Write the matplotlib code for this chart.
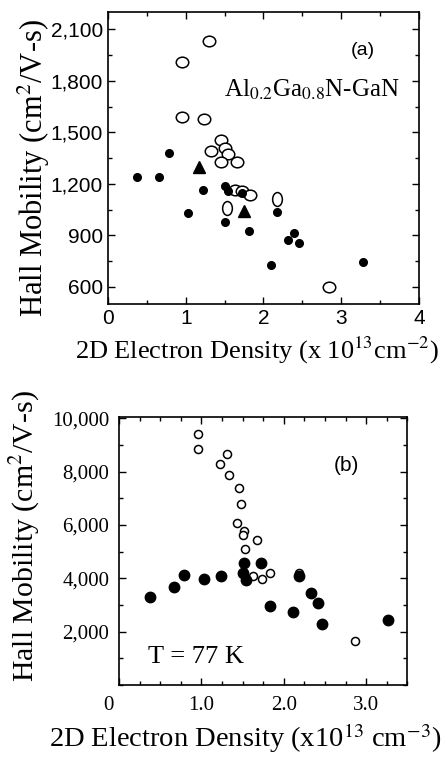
import matplotlib
matplotlib.use('Agg')
import matplotlib.pyplot as plt
from matplotlib.markers import MarkerStyle
from matplotlib.path import Path
from matplotlib.transforms import Affine2D, ScaledTranslation
from matplotlib.ticker import MultipleLocator, FixedLocator, FuncFormatter

plt.rcParams['mathtext.fontset'] = 'stix'

SERIF = 'Liberation Serif'
SANS = 'Liberation Sans'

# --- (a) room temperature, Al0.2Ga0.8N-GaN ---
a_open_x = [1.30, 0.95, 0.95, 1.23, 1.45, 1.33, 1.51, 1.54, 1.46, 1.66,
            1.63, 1.73, 1.83, 2.84]
a_open_y = [2030, 1910, 1590, 1575, 1455, 1393, 1410, 1373, 1325, 1329,
            1167, 1160, 1134, 600]
a_tall_x = [1.53, 2.17]
a_tall_y = [1057, 1109]
a_fill_x = [0.37, 0.66, 0.78, 1.22, 1.03, 1.51, 1.54, 1.51, 1.72, 1.81,
            2.17, 2.39, 2.31, 2.46, 2.10, 3.28]
a_fill_y = [1241, 1241, 1377, 1163, 1031, 1187, 1160, 979, 1144, 924,
            1035, 915, 872, 853, 730, 742]
a_tri_x = [1.17, 1.75]
a_tri_y = [1299, 1041]
a_yticks = [600, 900, 1200, 1500, 1800, 2100]
a_xticks = [0, 1, 2, 3, 4]

# --- (b) T = 77 K ---
b_open_x = [0.96, 0.96, 1.23, 1.31, 1.33, 1.45, 1.48, 1.43, 1.52, 1.50,
            1.67, 1.53, 1.63, 1.73, 1.83, 2.18, 2.86]
b_open_y = [9400, 8830, 8295, 8646, 7868, 7392, 6765, 6075, 5762, 5636,
            5423, 5097, 4094, 3981, 4194, 4194, 1661]
b_fill_x = [0.38, 0.67, 0.79, 1.03, 1.24, 1.52, 1.50, 1.54, 1.72, 1.83,
            2.18, 2.11, 2.33, 2.41, 2.47, 3.27]
b_fill_y = [3292, 3668, 4132, 3969, 4069, 4571, 4194, 3944, 4571, 2978,
            4069, 2727, 3442, 3066, 2288, 2439]
b_yticks = [2000, 4000, 6000, 8000, 10000]
b_xticks = [0, 1, 2, 3]
b_xticklabels = ['0', '1.0', '2.0', '3.0']


def ellipse(sx, sy):
    circ = Path.unit_circle()
    return MarkerStyle(Path(Affine2D().scale(sx, sy).transform(circ.vertices), circ.codes))


def style_axes(ax):
    ax.tick_params(which='both', direction='in', top=True, right=True, width=1.0)
    ax.tick_params(which='major', length=5)
    ax.tick_params(which='minor', length=3)
    for sp in ax.spines.values():
        sp.set_linewidth(1.2)


fig = plt.figure(figsize=(4.48, 7.62), dpi=100)
fig.patch.set_facecolor('white')

# ---------------- panel (a) ----------------
ax = fig.add_axes([0.241, 0.601, 0.694, 0.383])
ax.plot(a_open_x, a_open_y, linestyle='none', marker=ellipse(1, 0.85), ms=9,
        mfc='white', mec='black', mew=1.1, zorder=3)
ax.plot(a_tall_x, a_tall_y, linestyle='none', marker=ellipse(0.7, 1), ms=10,
        mfc='white', mec='black', mew=1.1, zorder=3)
ax.plot(a_fill_x, a_fill_y, linestyle='none', marker='o', ms=5.5,
        mfc='black', mec='black', zorder=4)
ax.plot(a_tri_x, a_tri_y, linestyle='none', marker='^', ms=8.5,
        mfc='black', mec='black', zorder=4)
ax.set_xlim(0, 4)
ax.set_ylim(500, 2200)
ax.xaxis.set_major_locator(FixedLocator(a_xticks))
ax.xaxis.set_minor_locator(MultipleLocator(0.5))
ax.yaxis.set_major_locator(FixedLocator(a_yticks))
ax.yaxis.set_minor_locator(MultipleLocator(150))
ax.yaxis.set_major_formatter(FuncFormatter(lambda v, _: f'{v:,.0f}'))
style_axes(ax)
for lbl in ax.get_xticklabels() + ax.get_yticklabels():
    lbl.set_fontfamily(SANS)
    lbl.set_fontsize(15)
ax.set_ylabel('Hall Mobility (cm$^{2}$/V-s)', fontfamily=SERIF, fontsize=22)
ax.yaxis.label.set_va('center')
ax.yaxis.set_label_coords(-0.238, 0.466)
ax.set_xlabel('2D Electron Density (x 10$^{13}$cm$^{-2}$)', fontfamily=SERIF, fontsize=19)
ax.xaxis.label.set_va('center')
ax.xaxis.set_label_coords(0.479, -0.158)
ax.text(0.82, 0.87, '(a)', transform=ax.transAxes, fontfamily=SANS, fontsize=14,
        ha='center', va='center')
ax.text(0.373, 0.709, 'Al$_{0.2}$Ga$_{0.8}$N-GaN', transform=ax.transAxes,
        fontfamily=SERIF, fontsize=18, ha='left', va='baseline')

# ---------------- panel (b) ----------------
bx = fig.add_axes([0.266, 0.101, 0.643, 0.352])
bx.plot(b_open_x, b_open_y, linestyle='none', marker='o', ms=5.8,
        mfc='white', mec='black', mew=1.1, zorder=3)
bx.plot(b_fill_x, b_fill_y, linestyle='none', marker='o', ms=7.5,
        mfc='black', mec='black', zorder=4)
bx.set_xlim(0, 3.5)
bx.set_ylim(0, 10050)
bx.xaxis.set_major_locator(FixedLocator(b_xticks))
bx.xaxis.set_minor_locator(MultipleLocator(0.25))
bx.set_xticklabels(b_xticklabels)
bx.yaxis.set_major_locator(FixedLocator(b_yticks))
bx.yaxis.set_minor_locator(MultipleLocator(1000))
bx.yaxis.set_major_formatter(FuncFormatter(lambda v, _: f'{v:,.0f}'))
style_axes(bx)
bx.tick_params(axis='x', pad=8)
bx.tick_params(axis='y', pad=7)
for lbl in bx.get_xticklabels() + bx.get_yticklabels():
    lbl.set_fontfamily(SERIF)
    lbl.set_fontsize(15)
# the "0" label sits a little left of the origin in the original
zero = bx.get_xticklabels()[0]
zero.set_transform(zero.get_transform() + ScaledTranslation(-0.11, 0, fig.dpi_scale_trans))
bx.set_ylabel('Hall Mobility (cm$^{2}$/V-s)', fontfamily=SERIF, fontsize=21.5)
bx.yaxis.label.set_va('center')
bx.yaxis.set_label_coords(-0.326, 0.556)
bx.set_xlabel('2D Electron Density (x10$^{13}$ cm$^{-3}$)', fontfamily=SERIF, fontsize=20.5)
bx.xaxis.label.set_va('center')
bx.xaxis.set_label_coords(0.4375, -0.198)
bx.text(0.79, 0.82, '(b)', transform=bx.transAxes, fontfamily=SANS, fontsize=15,
        ha='center', va='center')
bx.text(0.10, 0.105, 'T = 77 K', transform=bx.transAxes, fontfamily=SERIF, fontsize=19,
        ha='left', va='center')

fig.savefig('out.png', dpi=100, facecolor='white')
